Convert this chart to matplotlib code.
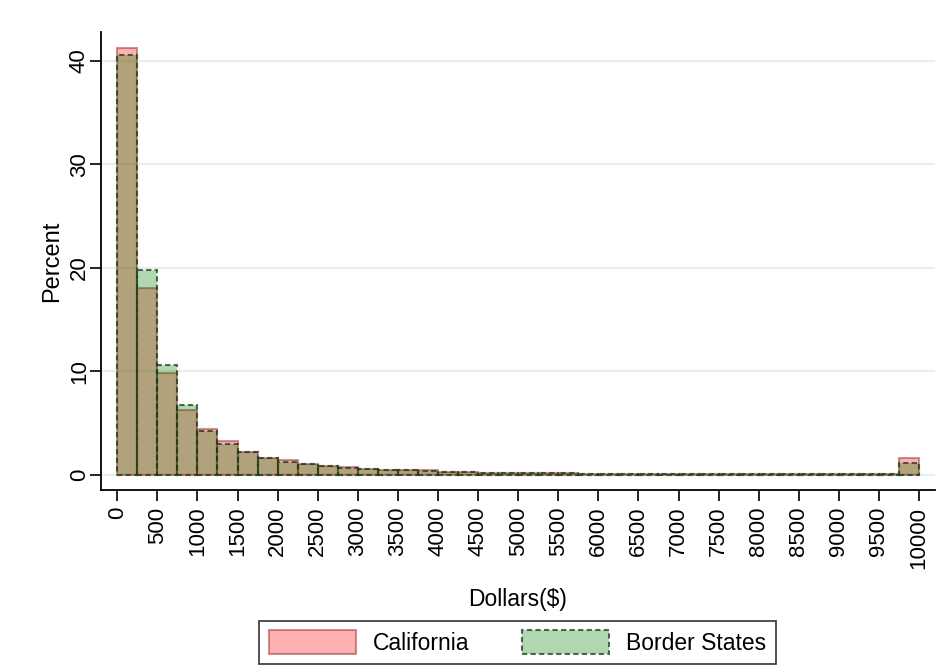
import numpy as np
import matplotlib
matplotlib.use("Agg")
from matplotlib import pyplot as plt
from matplotlib.patches import Patch

plt.rcParams["font.family"] = ["Liberation Sans", "DejaVu Sans"]

# histogram bins: $250 wide, 0 to 10000
bin_edges = np.arange(0, 10001, 250)

california = [41.3, 18.1, 9.9, 6.3, 4.45, 3.3, 2.2, 1.65, 1.4, 1.05,
              0.82, 0.8, 0.62, 0.52, 0.45, 0.48, 0.33, 0.3, 0.22, 0.2,
              0.18, 0.16, 0.15, 0.14, 0.13, 0.12, 0.11, 0.1, 0.1, 0.09,
              0.08, 0.08, 0.07, 0.07, 0.06, 0.06, 0.05, 0.05, 0.05, 1.65]
border = [40.6, 19.8, 10.6, 6.75, 4.2, 3.0, 2.2, 1.65, 1.28, 1.05,
          0.82, 0.68, 0.62, 0.52, 0.45, 0.35, 0.33, 0.3, 0.22, 0.2,
          0.17, 0.16, 0.15, 0.14, 0.13, 0.12, 0.11, 0.1, 0.1, 0.09,
          0.08, 0.08, 0.07, 0.07, 0.06, 0.06, 0.05, 0.05, 0.05, 1.13]
series_names = ["California", "Border States"]
xticks = list(range(0, 10001, 500))
yticks = [0, 10, 20, 30, 40]

ca_face = (1, 0, 0, 0.3)
ca_edge = (0.55, 0.1, 0.1, 0.45)
bs_face = (0, 0.5, 0, 0.3)
bs_edge = (0.1, 0.22, 0.1, 0.75)
dash = (0, (2.5, 1.6))

fig = plt.figure(figsize=(9.49, 6.69), dpi=100)
ax = fig.add_axes([0.1064, 0.2676, 0.8786, 0.6846])

for y in yticks:
    ax.axhline(y, color="#e6eef1", lw=1.6, zorder=0)

width = bin_edges[1] - bin_edges[0]
ax.bar(bin_edges[:-1], california, width=width, align="edge",
       facecolor=ca_face, edgecolor=ca_edge, linewidth=1.5, zorder=2)
ax.bar(bin_edges[:-1], border, width=width, align="edge",
       facecolor=bs_face, edgecolor=bs_edge, linewidth=1.5,
       linestyle=dash, zorder=3)

ax.set_xlim(-203, 10196)
ax.set_ylim(-1.45, 42.8)
ax.set_xticks(xticks)
ax.set_xticklabels([str(t) for t in xticks], rotation=90, fontsize=16)
ax.set_yticks(yticks)
ax.set_yticklabels([str(t) for t in yticks], rotation=90, va="center", fontsize=16)
ax.tick_params(axis="both", length=8, width=1.2, color="black")
ax.tick_params(axis="x", pad=4)
ax.tick_params(axis="y", pad=0)

for side in ["top", "right"]:
    ax.spines[side].set_visible(False)
for side in ["left", "bottom"]:
    ax.spines[side].set_linewidth(1.3)

ax.set_xlabel("Dollars($)", fontsize=16.5, labelpad=14)
ax.set_ylabel("Percent", fontsize=17, labelpad=4)

handles = [Patch(facecolor=ca_face, edgecolor=ca_edge, linewidth=1.5),
           Patch(facecolor=bs_face, edgecolor=bs_edge, linewidth=1.5,
                 linestyle=dash)]
leg = fig.legend(handles, series_names, loc="center", ncol=2,
                 bbox_to_anchor=(0.5454, 0.0395), fontsize=16.5, frameon=True,
                 fancybox=False, edgecolor="black", handlelength=3.8,
                 handleheight=1.2, handletextpad=0.75, columnspacing=2.3,
                 borderpad=0.4, borderaxespad=0)
leg.get_frame().set_linewidth(1.2)

fig.savefig("out.png", dpi=100, facecolor="white")
